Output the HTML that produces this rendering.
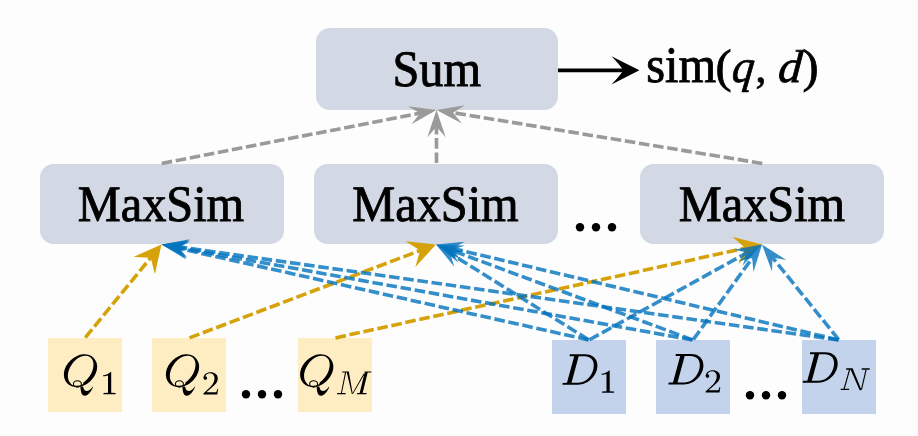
<!DOCTYPE html>
<html><head><meta charset="utf-8"><style>
html,body{margin:0;padding:0;background:#fdfdfd;width:918px;height:436px;overflow:hidden;}
svg{display:block;will-change:transform;}
text{text-rendering:geometricPrecision;}
</style></head><body><svg width="918" height="436" viewBox="0 0 918 436"><rect x="316" y="28" width="242" height="82" rx="14" ry="14" fill="#d3d9e4"/><rect x="40" y="164" width="244" height="80" rx="13.5" ry="13.5" fill="#d3d9e4"/><rect x="314" y="164" width="244" height="80" rx="13.5" ry="13.5" fill="#d3d9e4"/><rect x="640" y="164" width="244" height="80" rx="13.5" ry="13.5" fill="#d3d9e4"/><rect x="48" y="338" width="74" height="74" rx="0" ry="0" fill="#feedc3"/><rect x="152" y="338" width="74" height="74" rx="0" ry="0" fill="#feedc3"/><rect x="298" y="338" width="74" height="74" rx="0" ry="0" fill="#feedc3"/><rect x="552" y="340" width="74" height="74" rx="0" ry="0" fill="#c3d3ec"/><rect x="656" y="340" width="74" height="74" rx="0" ry="0" fill="#c3d3ec"/><rect x="802" y="340" width="74" height="74" rx="0" ry="0" fill="#c3d3ec"/><text transform="translate(436.8,86) scale(0.947,1)" x="0" y="0" font-family="Liberation Serif"  stroke="#000" stroke-width="0.9" font-size="51" text-anchor="middle" fill="#000">Sum</text><text transform="translate(161,221) scale(0.947,1)" x="0" y="0" font-family="Liberation Serif"  stroke="#000" stroke-width="0.9" font-size="51" text-anchor="middle" fill="#000">MaxSim</text><text transform="translate(435.5,221) scale(0.947,1)" x="0" y="0" font-family="Liberation Serif"  stroke="#000" stroke-width="0.9" font-size="51" text-anchor="middle" fill="#000">MaxSim</text><text transform="translate(762,221) scale(0.947,1)" x="0" y="0" font-family="Liberation Serif"  stroke="#000" stroke-width="0.9" font-size="51" text-anchor="middle" fill="#000">MaxSim</text><text transform="translate(646.3,82) scale(0.947,1)" x="0" y="0" font-family="Liberation Serif"  stroke="#000" stroke-width="0.9" font-size="51" fill="#000">sim</text><text transform="translate(715.5,82) scale(0.947,0.92)" x="0" y="0" font-family="Liberation Serif"  stroke="#000" stroke-width="0.9" font-size="51" fill="#000">(</text><text transform="translate(731,82) scale(0.86,0.91) skewX(-7)" x="0" y="0" font-family="Liberation Serif"  stroke="#000" stroke-width="0.9" font-size="51" font-style="italic" fill="#000">q</text><text transform="translate(755.5,82) scale(0.85,0.85)" x="0" y="0" font-family="Liberation Serif"  stroke="#000" stroke-width="0.9" font-size="51" fill="#000">,</text><text transform="translate(777.5,82) scale(0.93,0.9) skewX(-4)" x="0" y="0" font-family="Liberation Serif"  stroke="#000" stroke-width="0.9" font-size="51" font-style="italic" fill="#000">d</text><text transform="translate(802.5,82) scale(0.947,0.92)" x="0" y="0" font-family="Liberation Serif"  stroke="#000" stroke-width="0.9" font-size="51" fill="#000">)</text><line x1="558" y1="70.3" x2="626" y2="70.3" stroke="#000" stroke-width="3.7"/><path d="M639.4,70.3 L611.5,56.2 Q620,65 623.4,70.3 Q620,75.6 611.5,84.6 Z" fill="#000"/><g><line x1="161.20" y1="163.50" x2="421.97" y2="112.82" stroke="#9a9a9a" stroke-width="3.6" stroke-dasharray="10.6 3.7" stroke-dashoffset="13.80"/><path d="M436.50,110.00 L411.46,124.24 L420.01,113.20 L407.95,106.18 Z" fill="#9a9a9a"/></g><g><line x1="436.50" y1="163.50" x2="436.50" y2="124.80" stroke="#9a9a9a" stroke-width="3.6" stroke-dasharray="10.6 3.7" stroke-dashoffset="13.80"/><path d="M436.50,110.00 L445.70,137.30 L436.50,126.80 L427.30,137.30 Z" fill="#9a9a9a"/></g><g><line x1="762.80" y1="163.50" x2="451.10" y2="112.39" stroke="#9a9a9a" stroke-width="3.6" stroke-dasharray="10.6 3.7" stroke-dashoffset="13.80"/><path d="M436.50,110.00 L464.93,105.34 L453.08,112.72 L461.95,123.50 Z" fill="#9a9a9a"/></g><g><line x1="85.00" y1="338.00" x2="152.00" y2="256.11" stroke="#d6a20a" stroke-width="3.6" stroke-dasharray="10.6 3.7" stroke-dashoffset="13.80"/><path d="M161.50,244.50 L154.89,274.37 L150.73,257.66 L133.53,256.89 Z" fill="#d6a20a"/></g><g><line x1="189.00" y1="338.00" x2="421.97" y2="249.81" stroke="#d6a20a" stroke-width="3.6" stroke-dasharray="10.6 3.7" stroke-dashoffset="13.80"/><path d="M436.00,244.50 L415.35,267.07 L420.10,250.52 L405.58,241.26 Z" fill="#d6a20a"/></g><g><line x1="335.00" y1="338.00" x2="747.35" y2="247.71" stroke="#d6a20a" stroke-width="3.6" stroke-dasharray="10.6 3.7" stroke-dashoffset="13.80"/><path d="M762.00,244.50 L738.28,263.82 L745.39,248.14 L732.38,236.86 Z" fill="#d6a20a"/></g><g opacity="0.8"><line x1="589.00" y1="340.00" x2="175.94" y2="247.73" stroke="#0072bd" stroke-width="3.6" stroke-dasharray="10.6 3.7" stroke-dashoffset="13.80"/><path d="M161.50,244.50 L190.15,241.47 L177.90,248.16 L186.14,259.43 Z" fill="#0072bd"/></g><g opacity="0.8"><line x1="589.00" y1="340.00" x2="448.55" y2="252.34" stroke="#0072bd" stroke-width="3.6" stroke-dasharray="10.6 3.7" stroke-dashoffset="13.80"/><path d="M436.00,244.50 L464.03,251.15 L450.25,253.40 L454.29,266.76 Z" fill="#0072bd"/></g><g opacity="0.8"><line x1="589.00" y1="340.00" x2="749.04" y2="251.65" stroke="#0072bd" stroke-width="3.6" stroke-dasharray="10.6 3.7" stroke-dashoffset="13.80"/><path d="M762.00,244.50 L742.55,265.75 L747.29,252.62 L733.65,249.64 Z" fill="#0072bd"/></g><g opacity="0.8"><line x1="693.00" y1="340.00" x2="176.07" y2="247.12" stroke="#0072bd" stroke-width="3.6" stroke-dasharray="10.6 3.7" stroke-dashoffset="13.80"/><path d="M161.50,244.50 L190.00,240.27 L178.04,247.47 L186.74,258.38 Z" fill="#0072bd"/></g><g opacity="0.8"><line x1="693.00" y1="340.00" x2="449.87" y2="249.66" stroke="#0072bd" stroke-width="3.6" stroke-dasharray="10.6 3.7" stroke-dashoffset="13.80"/><path d="M436.00,244.50 L464.79,245.39 L451.75,250.35 L458.39,262.63 Z" fill="#0072bd"/></g><g opacity="0.8"><line x1="693.00" y1="340.00" x2="753.33" y2="256.50" stroke="#0072bd" stroke-width="3.6" stroke-dasharray="10.6 3.7" stroke-dashoffset="13.80"/><path d="M762.00,244.50 L753.47,272.02 L752.16,258.12 L738.55,261.24 Z" fill="#0072bd"/></g><g opacity="0.8"><line x1="839.00" y1="340.00" x2="176.16" y2="246.57" stroke="#0072bd" stroke-width="3.6" stroke-dasharray="10.6 3.7" stroke-dashoffset="13.80"/><path d="M161.50,244.50 L189.82,239.20 L178.14,246.84 L187.25,257.42 Z" fill="#0072bd"/></g><g opacity="0.8"><line x1="839.00" y1="340.00" x2="450.40" y2="247.91" stroke="#0072bd" stroke-width="3.6" stroke-dasharray="10.6 3.7" stroke-dashoffset="13.80"/><path d="M436.00,244.50 L464.69,241.84 L452.35,248.37 L460.44,259.75 Z" fill="#0072bd"/></g><g opacity="0.8"><line x1="839.00" y1="340.00" x2="771.29" y2="256.02" stroke="#0072bd" stroke-width="3.6" stroke-dasharray="10.6 3.7" stroke-dashoffset="13.80"/><path d="M762.00,244.50 L786.30,259.98 L772.54,257.58 L771.97,271.53 Z" fill="#0072bd"/></g><g transform="translate(64,354)"><path d="M29.88,4.18 A18.3,14.1 -43 1 0 3.12,29.14 A18.3,14.1 -43 1 0 29.88,4.18 Z M26.00,3.05 A16.3,10.5 -55 1 0 7.30,29.75 A16.3,10.5 -55 1 0 26.00,3.05 Z " fill="#000" fill-rule="evenodd"/><ellipse cx="13" cy="29" rx="6.5" ry="2.8" fill="#feedc3"/><ellipse cx="13.4" cy="29.9" rx="4" ry="3.2" fill="none" stroke="#000" stroke-width="1.1"/><path d="M16.4,32.6 C16.6,36 17,39.5 18.6,40.9 C19.6,41.8 21.6,41.9 23.2,41 C25.8,39.5 27.9,36 29.1,33 L28.6,32.8 C27,35.2 25,37 22.6,37 C20.4,37 19.6,35.2 19.1,32.6 Z" fill="#000"/></g><path transform="translate(103,372)" d="M8.2,0 L8.2,20.8 L12.6,20.9 L12.6,22.2 L0.5,22.2 L0.5,20.9 L5.0,20.8 L5.0,3.5 C3.8,4 1.9,4.3 0.1,4.3 L0.1,3.2 C2.9,3.2 5.6,2 7.6,0 Z" fill="#000"/><g transform="translate(166,354)"><path d="M29.88,4.18 A18.3,14.1 -43 1 0 3.12,29.14 A18.3,14.1 -43 1 0 29.88,4.18 Z M26.00,3.05 A16.3,10.5 -55 1 0 7.30,29.75 A16.3,10.5 -55 1 0 26.00,3.05 Z " fill="#000" fill-rule="evenodd"/><ellipse cx="13" cy="29" rx="6.5" ry="2.8" fill="#feedc3"/><ellipse cx="13.4" cy="29.9" rx="4" ry="3.2" fill="none" stroke="#000" stroke-width="1.1"/><path d="M16.4,32.6 C16.6,36 17,39.5 18.6,40.9 C19.6,41.8 21.6,41.9 23.2,41 C25.8,39.5 27.9,36 29.1,33 L28.6,32.8 C27,35.2 25,37 22.6,37 C20.4,37 19.6,35.2 19.1,32.6 Z" fill="#000"/></g><g transform="translate(203.2,372.1)"><path d="M2.1,4.1 C2.9,2 4.5,1.1 6.6,1.1 C9.5,1.1 11.3,3.2 11.3,6.3 C11.3,9.3 9.8,12 7.1,14.8 L0.2,21.5 L0.2,22.3 L14.1,22.3 L14.9,16.8 L14.1,16.8 C13.7,19.4 13.1,20.1 11.6,20.1 L3.2,20.1 L9.4,14.6 C12.6,11.9 14.6,9.6 14.6,6.3 C14.6,2.6 11.6,0.2 7.3,0.2 C3.5,0.2 0.3,2.6 0.3,5.8 Z" fill="#000"/><circle cx="2.1" cy="6.0" r="1.8" fill="#000"/></g><g transform="translate(300.2,354)"><path d="M29.88,4.18 A18.3,14.1 -43 1 0 3.12,29.14 A18.3,14.1 -43 1 0 29.88,4.18 Z M26.00,3.05 A16.3,10.5 -55 1 0 7.30,29.75 A16.3,10.5 -55 1 0 26.00,3.05 Z " fill="#000" fill-rule="evenodd"/><ellipse cx="13" cy="29" rx="6.5" ry="2.8" fill="#feedc3"/><ellipse cx="13.4" cy="29.9" rx="4" ry="3.2" fill="none" stroke="#000" stroke-width="1.1"/><path d="M16.4,32.6 C16.6,36 17,39.5 18.6,40.9 C19.6,41.8 21.6,41.9 23.2,41 C25.8,39.5 27.9,36 29.1,33 L28.6,32.8 C27,35.2 25,37 22.6,37 C20.4,37 19.6,35.2 19.1,32.6 Z" fill="#000"/></g><path transform="translate(337.2,371.4)" d="M5.00,0.00 L11.80,0.00 L11.60,1.20 L5.00,1.20 Z M-0.10,21.60 L8.50,21.60 L8.30,22.80 L-0.10,22.80 Z M27.50,0.00 L34.20,0.00 L34.00,1.20 L27.30,1.20 Z M20.00,21.60 L29.40,21.60 L29.20,22.80 L19.80,22.80 Z M7.80,1.00 L8.90,1.00 L4.70,21.80 L3.70,21.80 Z M9.40,0.20 L11.60,0.20 L15.60,22.80 L14.70,22.80 Z M14.70,22.80 L15.60,22.80 L28.60,0.60 L27.40,0.60 Z M27.60,0.60 L30.60,0.60 L25.40,21.80 L22.40,21.80 Z " fill="#000"/><path transform="translate(562,354.4)" d="M7.8,-0.1 L23,-0.1 C31.2,-0.1 35.4,4.8 35.4,11.2 C35.4,21 26.5,30.4 16,30.4 L0.4,30.4 L0.6,28.5 L5.0,28.4 L12.2,1.9 L7.6,1.9 Z M16.7,1.9 L22.5,1.9 C28.5,1.9 31.8,5.5 31.8,10.9 C31.8,19.5 25,28.4 16.5,28.4 L9.5,28.4 Z" fill="#000" fill-rule="evenodd"/><path transform="translate(601.5,370.5)" d="M8.2,0 L8.2,20.8 L12.6,20.9 L12.6,22.2 L0.5,22.2 L0.5,20.9 L5.0,20.8 L5.0,3.5 C3.8,4 1.9,4.3 0.1,4.3 L0.1,3.2 C2.9,3.2 5.6,2 7.6,0 Z" fill="#000"/><path transform="translate(668,354)" d="M7.8,-0.1 L23,-0.1 C31.2,-0.1 35.4,4.8 35.4,11.2 C35.4,21 26.5,30.4 16,30.4 L0.4,30.4 L0.6,28.5 L5.0,28.4 L12.2,1.9 L7.6,1.9 Z M16.7,1.9 L22.5,1.9 C28.5,1.9 31.8,5.5 31.8,10.9 C31.8,19.5 25,28.4 16.5,28.4 L9.5,28.4 Z" fill="#000" fill-rule="evenodd"/><g transform="translate(705.4,370.1)"><path d="M2.1,4.1 C2.9,2 4.5,1.1 6.6,1.1 C9.5,1.1 11.3,3.2 11.3,6.3 C11.3,9.3 9.8,12 7.1,14.8 L0.2,21.5 L0.2,22.3 L14.1,22.3 L14.9,16.8 L14.1,16.8 C13.7,19.4 13.1,20.1 11.6,20.1 L3.2,20.1 L9.4,14.6 C12.6,11.9 14.6,9.6 14.6,6.3 C14.6,2.6 11.6,0.2 7.3,0.2 C3.5,0.2 0.3,2.6 0.3,5.8 Z" fill="#000"/><circle cx="2.1" cy="6.0" r="1.8" fill="#000"/></g><path transform="translate(802.3,352.3)" d="M7.8,-0.1 L23,-0.1 C31.2,-0.1 35.4,4.8 35.4,11.2 C35.4,21 26.5,30.4 16,30.4 L0.4,30.4 L0.6,28.5 L5.0,28.4 L12.2,1.9 L7.6,1.9 Z M16.7,1.9 L22.5,1.9 C28.5,1.9 31.8,5.5 31.8,10.9 C31.8,19.5 25,28.4 16.5,28.4 L9.5,28.4 Z" fill="#000" fill-rule="evenodd"/><path transform="translate(841,368)" d="M5.30,0.20 L11.80,0.20 L11.60,1.70 L5.10,1.70 Z M8.00,1.50 L9.20,1.50 L3.70,21.00 L2.50,21.00 Z M-0.20,20.80 L8.20,20.80 L8.00,22.00 L-0.40,22.00 Z M9.10,0.40 L11.70,0.40 L20.60,22.30 L18.70,22.30 Z M19.80,22.30 L20.90,22.30 L25.70,1.50 L24.50,1.50 Z M20.80,0.20 L28.80,0.20 L28.60,1.70 L20.60,1.70 Z " fill="#000"/><circle cx="246" cy="394.3" r="4.2" fill="#000"/><circle cx="262" cy="394.3" r="4.2" fill="#000"/><circle cx="278" cy="394.3" r="4.2" fill="#000"/><circle cx="750" cy="395.2" r="4.2" fill="#000"/><circle cx="766" cy="395.2" r="4.2" fill="#000"/><circle cx="782" cy="395.2" r="4.2" fill="#000"/><circle cx="580" cy="227.3" r="4.2" fill="#000"/><circle cx="596" cy="227.3" r="4.2" fill="#000"/><circle cx="612" cy="227.3" r="4.2" fill="#000"/></svg></body></html>
